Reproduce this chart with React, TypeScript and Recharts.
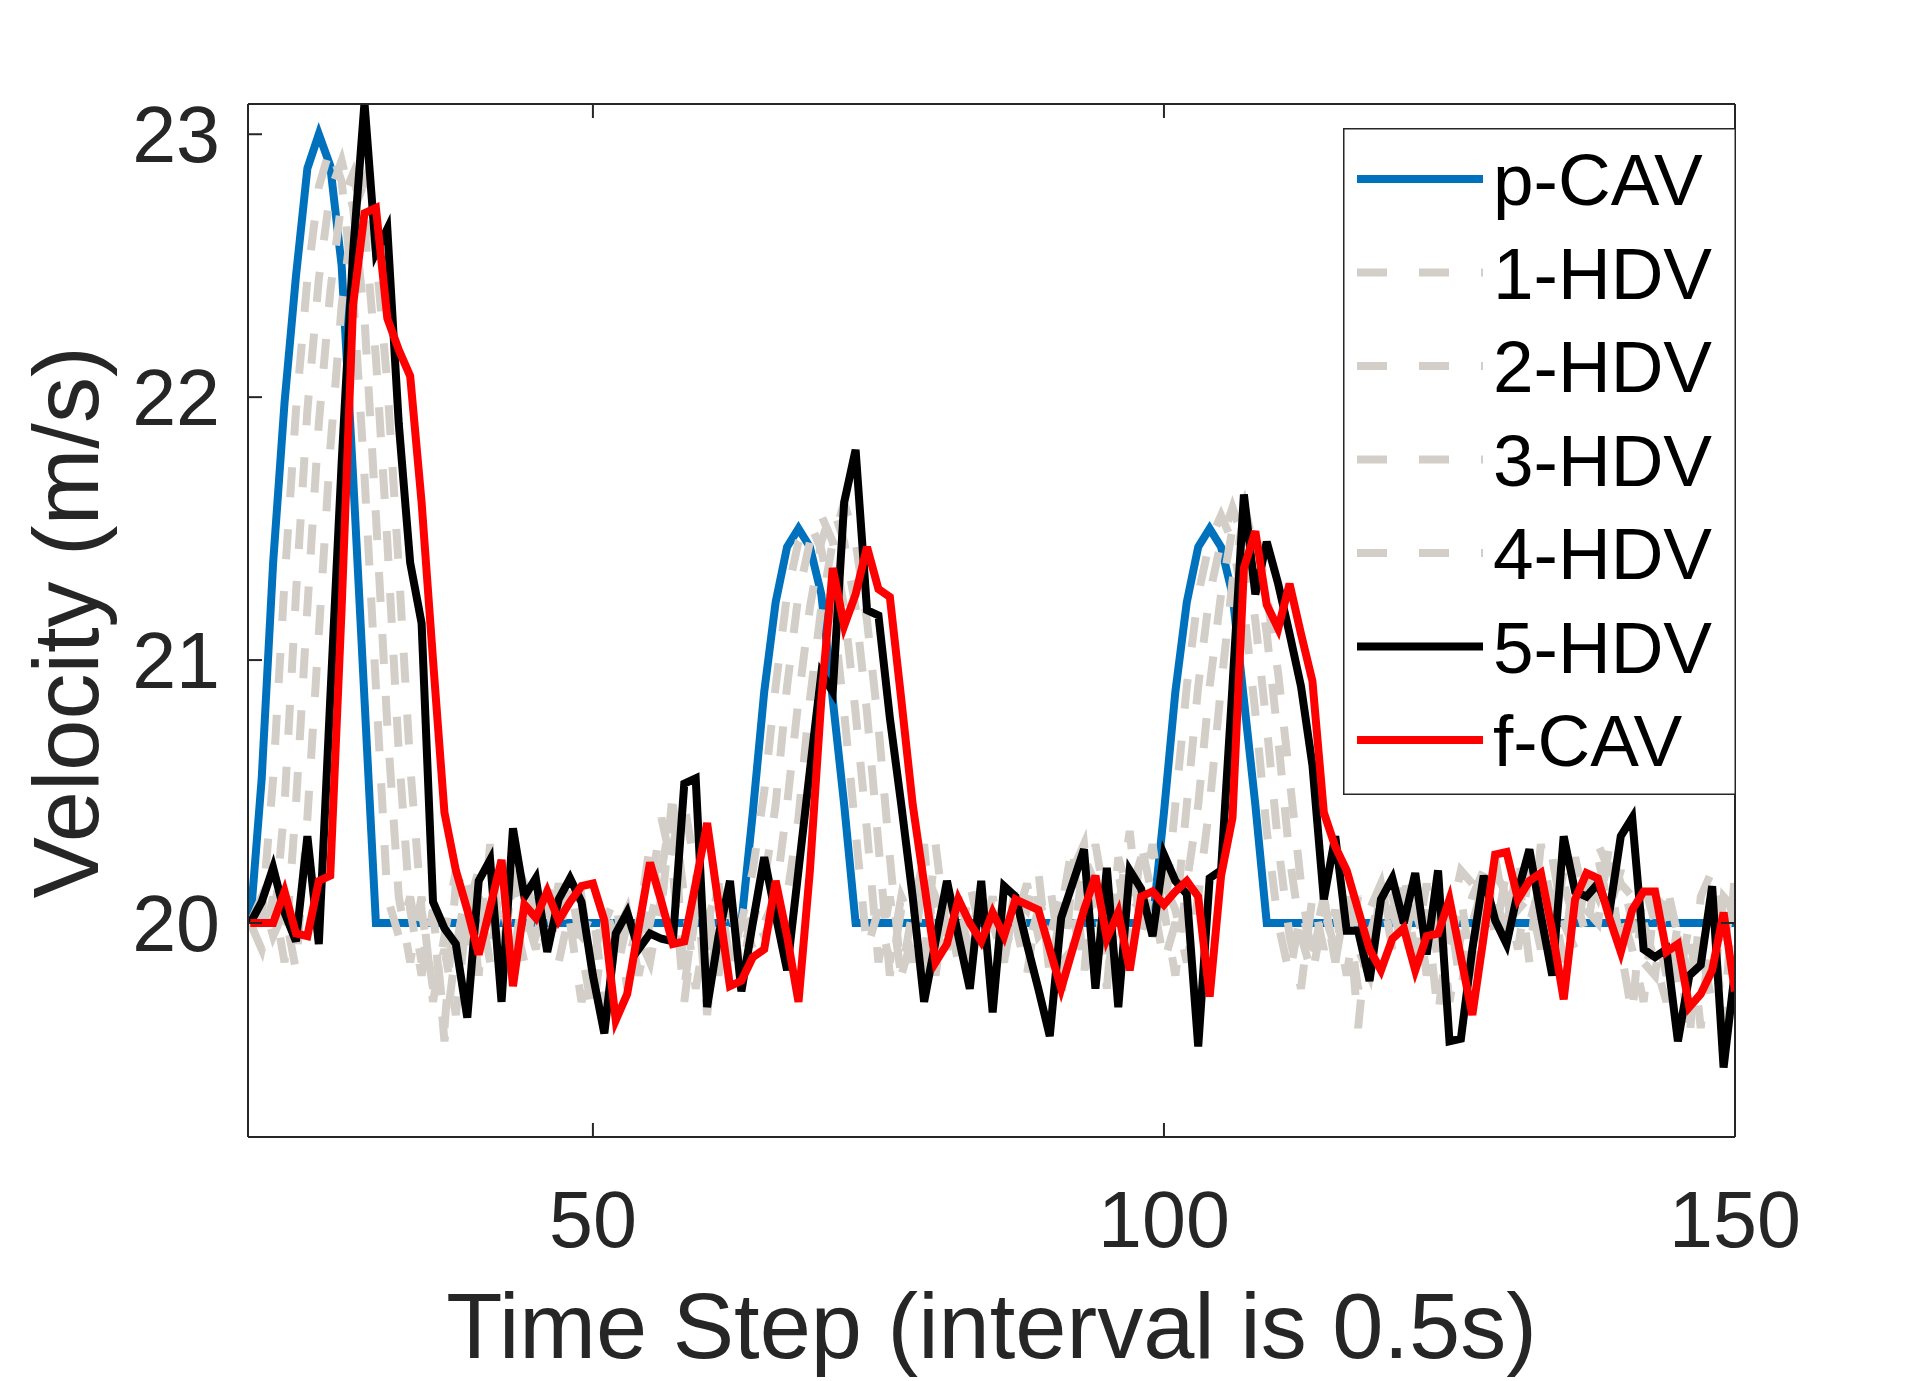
import React from "react";
import { LineChart, Line, XAxis, YAxis, Legend } from "recharts";

// time steps 20..150
const steps = Array.from({ length: 131 }, (_, i) => 20 + i);

const pCav = [
  20.0, 20.55, 21.37, 21.98, 22.46, 22.87, 23.0, 22.88, 22.5, 21.7,
  20.85, 20, 20, 20, 20, 20, 20, 20, 20, 20,
  20, 20, 20, 20, 20, 20, 20, 20, 20, 20,
  20, 20, 20, 20, 20, 20, 20, 20, 20, 20,
  20, 20, 20, 20, 20.42, 20.88, 21.22, 21.43, 21.5, 21.43,
  21.25, 20.85, 20.45, 20, 20, 20, 20, 20, 20, 20,
  20, 20, 20, 20, 20, 20, 20, 20, 20, 20,
  20, 20, 20, 20, 20, 20, 20, 20, 20, 20,
  20.42, 20.88, 21.22, 21.43, 21.5, 21.43, 21.25, 20.85, 20.45, 20,
  20, 20, 20, 20, 20, 20, 20, 20, 20, 20,
  20, 20, 20, 20, 20, 20, 20, 20, 20, 20,
  20, 20, 20, 20, 20, 20, 20, 20, 20, 20,
  20, 20, 20, 20, 20, 20, 20, 20, 20, 20, 20,
];

const hdv1 = [
  20.0, 20.02, 20.55, 21.3, 21.95, 22.45, 22.8, 22.95, 22.82, 22.4,
  21.7, 20.9, 20.1, 19.95, 20.1, 19.85, 20.05, 19.6, 20.15, 20.2,
  19.8, 20.3, 19.9, 20.15, 20.05, 19.9, 20.12, 20.1, 20.0, 19.7,
  19.85, 20.05, 19.95, 19.85, 20.0, 20.3, 20.05, 20.5, 19.75, 20.1,
  19.9, 20.15, 19.85, 20.0, 20.2, 20.5, 20.9, 21.25, 21.45, 21.52,
  21.42, 21.2, 20.8, 20.35, 19.9, 20.05, 19.85, 20.1, 20.0, 20.3,
  19.8, 20.1, 20.05, 19.9, 20.15, 20.0, 19.85, 20.1, 20.05, 20.2,
  19.8, 20.05, 20.3, 19.8, 20.15, 19.75, 20.25, 20.1, 20.05, 20.3,
  20.0, 20.45, 20.9, 21.25, 21.45, 21.55, 21.45, 21.2, 20.8, 20.35,
  20.0, 19.8, 20.05, 19.9, 20.1, 19.85, 20.15, 19.6, 20.05, 20.15,
  19.9, 20.2, 19.85, 20.05, 19.65, 20.0, 20.2, 20.15, 19.9, 20.25,
  20.0, 20.2, 19.85, 20.3, 20.05, 20.15, 20.0, 20.1, 20.3, 20.2,
  19.9, 19.65, 20.15, 20.0, 19.8, 19.95, 19.55, 20.1, 20.2, 19.9, 20.15,
];

const hdv2 = [
  20.0, 20.05, 19.95, 20.45, 21.25, 21.95, 22.45, 22.78, 22.9, 22.72,
  22.3, 21.55, 20.75, 20.1, 19.85, 20.1, 19.7, 19.95, 20.2, 19.9,
  20.1, 19.85, 20.2, 20.05, 19.85, 20.15, 20.05, 19.95, 20.15, 19.9,
  19.65, 20.0, 20.1, 19.75, 19.95, 20.1, 20.4, 20.2, 19.7, 20.05,
  20.1, 19.8, 20.05, 19.9, 20.0, 20.15, 20.45, 20.9, 21.25, 21.45,
  21.55, 21.45, 21.2, 20.8, 20.35, 19.85, 20.1, 19.8, 20.05, 20.25,
  19.9, 20.05, 19.85, 20.15, 19.95, 20.1, 19.9, 20.0, 20.15, 19.95,
  20.0, 19.7, 20.2, 20.3, 19.85, 20.0, 20.2, 19.9, 20.3, 20.1,
  19.85, 20.0, 20.45, 20.9, 21.25, 21.45, 21.58, 21.45, 21.15, 20.75,
  20.3, 19.95, 19.75, 20.1, 19.9, 20.05, 19.8, 20.1, 19.95, 20.1,
  20.05, 19.9, 20.15, 19.8, 20.1, 19.7, 19.95, 20.1, 20.2, 19.95,
  20.2, 20.05, 20.1, 19.9, 20.25, 20.0, 19.9, 20.2, 20.1, 20.25,
  20.05, 19.9, 19.7, 20.1, 20.05, 19.75, 20.0, 19.6, 20.05, 20.15, 20.0,
];

const hdv3 = [
  20.0, 19.9, 20.1, 19.85, 20.45, 21.2, 21.9, 22.4, 22.75, 22.85,
  22.65, 22.15, 21.45, 20.65, 20.05, 19.8, 20.05, 19.55, 19.9, 20.15,
  19.95, 20.05, 19.8, 20.2, 20.0, 19.95, 20.1, 19.85, 20.05, 20.1,
  19.8, 19.6, 19.95, 20.05, 19.8, 20.0, 20.2, 20.45, 20.1, 19.75,
  20.0, 20.15, 19.75, 20.05, 19.9, 20.0, 20.1, 20.45, 20.85, 21.2,
  21.45, 21.58, 21.45, 21.2, 20.8, 20.3, 19.8, 20.05, 19.85, 20.2,
  20.1, 19.9, 20.05, 19.8, 20.1, 20.0, 19.85, 20.15, 19.9, 20.05,
  20.15, 19.85, 19.9, 20.25, 20.15, 19.8, 20.05, 20.35, 19.95, 20.15,
  20.05, 19.8, 20.15, 20.45, 20.9, 21.25, 21.5, 21.6, 21.4, 21.1,
  20.7, 20.25, 19.95, 19.8, 20.05, 19.9, 20.05, 19.75, 19.9, 20.05,
  20.1, 19.95, 20.05, 19.9, 19.95, 20.05, 19.75, 20.0, 20.15, 20.1,
  19.95, 20.25, 20.0, 20.15, 19.95, 20.2, 20.1, 19.95, 20.25, 20.05,
  20.2, 20.0, 19.85, 19.8, 20.15, 19.95, 19.8, 19.9, 19.7, 20.1, 20.05,
];

const hdv4 = [
  20.0, 20.1, 19.95, 20.05, 19.82, 20.4, 21.1, 21.8, 22.35, 22.7,
  22.82, 22.55, 22.05, 21.35, 20.6, 20.05, 19.75, 19.9, 19.65, 20.05,
  20.2, 19.9, 20.1, 19.85, 20.15, 20.05, 19.9, 20.15, 20.0, 19.95,
  20.05, 19.7, 19.8, 20.0, 19.95, 19.85, 20.1, 20.3, 20.45, 20.2,
  19.65, 20.05, 20.1, 19.8, 20.05, 19.95, 20.05, 20.1, 20.4, 20.85,
  21.2, 21.45, 21.6, 21.45, 21.15, 20.75, 20.25, 19.8, 19.95, 19.85,
  20.3, 19.95, 20.1, 19.85, 20.05, 19.9, 20.1, 20.0, 19.8, 20.1,
  19.95, 20.1, 20.05, 19.8, 20.3, 20.05, 19.9, 20.1, 20.25, 19.9,
  20.15, 20.05, 19.85, 20.1, 20.45, 20.9, 21.3, 21.55, 21.5, 21.25,
  20.95, 20.55, 20.15, 19.85, 20.1, 19.85, 20.1, 19.9, 19.8, 20.15,
  19.95, 20.1, 19.9, 20.15, 19.85, 19.9, 20.1, 19.8, 20.05, 20.2,
  20.1, 19.9, 20.2, 20.05, 20.1, 19.85, 20.25, 20.05, 20.0, 20.3,
  20.15, 20.1, 20.0, 19.85, 19.7, 20.0, 19.9, 19.85, 20.05, 19.6, 20.2,
];

const hdv5 = [
  20.0, 20.08, 20.21, 20.04, 19.93, 20.33, 19.92, 20.85, 21.75, 22.55,
  23.12, 22.55, 22.64, 21.9, 21.37, 21.14, 20.08, 19.98, 19.92, 19.64,
  20.16, 20.24, 19.7, 20.36, 20.1, 20.17, 19.89, 20.09, 20.17, 20.08,
  19.8, 19.58, 19.96, 20.04, 19.9, 19.96, 19.94, 19.93, 20.53, 20.55,
  19.68, 19.95, 20.16, 19.74, 20.0, 20.25, 20.03, 19.82, 20.2, 20.58,
  20.95, 20.88, 21.6, 21.8, 21.19, 21.17, 20.78, 20.45, 20.1, 19.7,
  19.93, 20.16, 19.95, 19.75, 20.16, 19.66, 20.14, 20.1, 19.92, 19.75,
  19.57, 20.02, 20.15, 20.28, 19.75, 20.21, 19.68, 20.2, 20.13, 19.95,
  20.26, 20.16, 20.11, 19.53, 20.17, 20.2, 20.9, 21.63, 21.25, 21.45,
  21.29, 21.1, 20.9, 20.6, 20.09, 20.33, 19.97, 19.97, 19.78, 20.09,
  20.17, 20.0, 20.19, 19.88, 20.2, 19.55, 19.56, 19.9, 20.18, 20.01,
  19.92, 20.12, 20.28, 20.03, 19.8, 20.33, 20.12, 20.1, 20.15, 20.04,
  20.33, 20.4, 19.9, 19.87, 19.9, 19.55, 19.8, 19.84, 20.14, 19.45, 19.82,
];

const fCav = [
  20.0, 20.0, 20.0, 20.12, 19.96, 19.95, 20.16, 20.18, 21.2, 22.35,
  22.7, 22.72, 22.3, 22.18, 22.08, 21.6, 21.0, 20.42, 20.2, 20.05,
  19.88, 20.06, 20.24, 19.76, 20.07, 20.02, 20.12, 20.01, 20.08, 20.14,
  20.15, 20.01, 19.63, 19.73, 19.98, 20.23, 20.08, 19.92, 19.93, 20.15,
  20.38, 20.07, 19.76, 19.78, 19.87, 19.9, 20.16, 19.95, 19.7, 20.2,
  20.85, 21.35, 21.13, 21.25, 21.43, 21.27, 21.24, 20.85, 20.45, 20.15,
  19.85, 19.92, 20.09, 20.0, 19.93, 20.04, 19.95, 20.09, 20.07, 20.05,
  19.9, 19.75, 19.9, 20.05, 20.18, 19.94, 20.04, 19.82, 20.1, 20.12,
  20.07, 20.12, 20.16, 20.1, 19.72, 20.18, 20.4, 21.35, 21.49, 21.21,
  21.12, 21.29, 21.1, 20.92, 20.42, 20.29, 20.2, 20.05, 19.9, 19.82,
  19.94, 19.98, 19.82, 19.95, 19.96, 20.09, 19.87, 19.65, 19.95, 20.26,
  20.27, 20.09, 20.16, 20.19, 19.97, 19.71, 20.09, 20.19, 20.17, 20.02,
  19.89, 20.05, 20.12, 20.12, 19.89, 19.92, 19.68, 19.73, 19.82, 20.04, 19.74,
];

const xTicks = [50, 100, 150];
const yTicks = [20, 21, 22, 23];

const GRAY = "#d3cfc8";
const AXIS = "#262626";
const FONT = "'Liberation Sans', Arial, Helvetica, sans-serif";

const seriesList = [
  { key: "pCav", name: "p-CAV", values: pCav, color: "#0072bd", dash: undefined },
  { key: "hdv1", name: "1-HDV", values: hdv1, color: GRAY, dash: "30 32" },
  { key: "hdv2", name: "2-HDV", values: hdv2, color: GRAY, dash: "30 32" },
  { key: "hdv3", name: "3-HDV", values: hdv3, color: GRAY, dash: "30 32" },
  { key: "hdv4", name: "4-HDV", values: hdv4, color: GRAY, dash: "30 32" },
  { key: "hdv5", name: "5-HDV", values: hdv5, color: "#000000", dash: undefined },
  { key: "fCav", name: "f-CAV", values: fCav, color: "#ff0000", dash: undefined },
];

const data = steps.map((t, i) => {
  const row: Record<string, number> = { t };
  seriesList.forEach((s) => {
    row[s.key] = s.values[i];
  });
  return row;
});

const BottomTick = (props: any) => {
  const { x, y, payload } = props;
  return (
    <g>
      <line x1={x} x2={x} y1={y} y2={y - 14} stroke={AXIS} strokeWidth={2} />
      <text x={x} y={y + 110} textAnchor="middle" fontSize={79} fontFamily={FONT} fill={AXIS}>
        {payload.value}
      </text>
    </g>
  );
};

const TopTick = (props: any) => {
  const { x, y } = props;
  return <line x1={x} x2={x} y1={y} y2={y + 14} stroke={AXIS} strokeWidth={2} />;
};

const LeftTick = (props: any) => {
  const { x, y, payload } = props;
  return (
    <g>
      <line x1={x} x2={x + 14} y1={y} y2={y} stroke={AXIS} strokeWidth={2} />
      <text x={x - 28} y={y + 28} textAnchor="end" fontSize={79} fontFamily={FONT} fill={AXIS}>
        {payload.value}
      </text>
    </g>
  );
};

const RightTick = (props: any) => {
  const { x, y } = props;
  return <line x1={x} x2={x - 14} y1={y} y2={y} stroke={AXIS} strokeWidth={2} />;
};

const XTitle = (props: any) => {
  const vb = props.viewBox || { x: 248, y: 1137, width: 1487 };
  return (
    <text x={vb.x + vb.width / 2} y={vb.y + 221} textAnchor="middle" fontSize={92} fontFamily={FONT} fill={AXIS}>
      Time Step (interval is 0.5s)
    </text>
  );
};

const YTitle = (props: any) => {
  const vb = props.viewBox || { x: 8, y: 104, height: 1033 };
  const cx = vb.x + 90;
  const cy = vb.y + vb.height / 2 + 2;
  return (
    <text
      x={cx}
      y={cy}
      transform={`rotate(-90, ${cx}, ${cy})`}
      textAnchor="middle"
      fontSize={92}
      fontFamily={FONT}
      fill={AXIS}
    >
      Velocity (m/s)
    </text>
  );
};

const LegendBox = () => (
  <svg width={393} height={667} style={{ display: "block" }}>
    <rect x={0.75} y={0.75} width={391.5} height={665.5} fill="#ffffff" stroke={AXIS} strokeWidth={1.5} />
    {seriesList.map((s, i) => {
      const cy = 51 + i * 93.5;
      return (
        <g key={s.key}>
          <line x1={14} x2={140} y1={cy} y2={cy} stroke={s.color} strokeWidth={8} strokeDasharray={s.dash} />
          <text x={150} y={cy + 26} fontSize={73} fontFamily={FONT} fill="#000">
            {s.name}
          </text>
        </g>
      );
    })}
  </svg>
);

export default function App() {
  return (
    <div style={{ position: "absolute", left: 0, top: 0, width: 1916, height: 1381, background: "#fff" }}>
      <LineChart width={1916} height={1381} data={data} margin={{ top: 100, right: 177, bottom: 4, left: 8 }}>
        <XAxis
          xAxisId="b"
          dataKey="t"
          type="number"
          domain={[19.8, 150]}
          ticks={xTicks}
          height={240}
          allowDataOverflow
          tickLine={false}
          tickSize={0}
          tickMargin={0}
          tick={<BottomTick />}
          axisLine={{ stroke: AXIS, strokeWidth: 2 }}
          label={<XTitle />}
        />
        <XAxis
          xAxisId="top"
          orientation="top"
          dataKey="t"
          type="number"
          domain={[19.8, 150]}
          ticks={xTicks}
          height={4}
          allowDataOverflow
          tickLine={false}
          tickSize={0}
          tickMargin={0}
          tick={<TopTick />}
          axisLine={{ stroke: AXIS, strokeWidth: 2 }}
        />
        <YAxis
          yAxisId="l"
          type="number"
          domain={[19.186, 23.115]}
          ticks={yTicks}
          width={240}
          allowDataOverflow
          tickLine={false}
          tickSize={0}
          tickMargin={0}
          tick={<LeftTick />}
          axisLine={{ stroke: AXIS, strokeWidth: 2 }}
          label={<YTitle />}
        />
        <YAxis
          yAxisId="r"
          orientation="right"
          type="number"
          domain={[19.186, 23.115]}
          ticks={yTicks}
          width={4}
          allowDataOverflow
          tickLine={false}
          tickSize={0}
          tickMargin={0}
          tick={<RightTick />}
          axisLine={{ stroke: AXIS, strokeWidth: 2 }}
        />
        {seriesList.map((s) => (
          <Line
            key={s.key}
            xAxisId="b"
            yAxisId="l"
            type="linear"
            dataKey={s.key}
            name={s.name}
            stroke={s.color}
            strokeWidth={8}
            strokeDasharray={s.dash}
            dot={false}
            activeDot={false}
            isAnimationActive={false}
          />
        ))}
        <Legend
          layout="vertical"
          align="center"
          verticalAlign="middle"
          content={<LegendBox />}
          wrapperStyle={{ left: 1343, top: 128, width: 393, height: 667 }}
        />
      </LineChart>
    </div>
  );
}
